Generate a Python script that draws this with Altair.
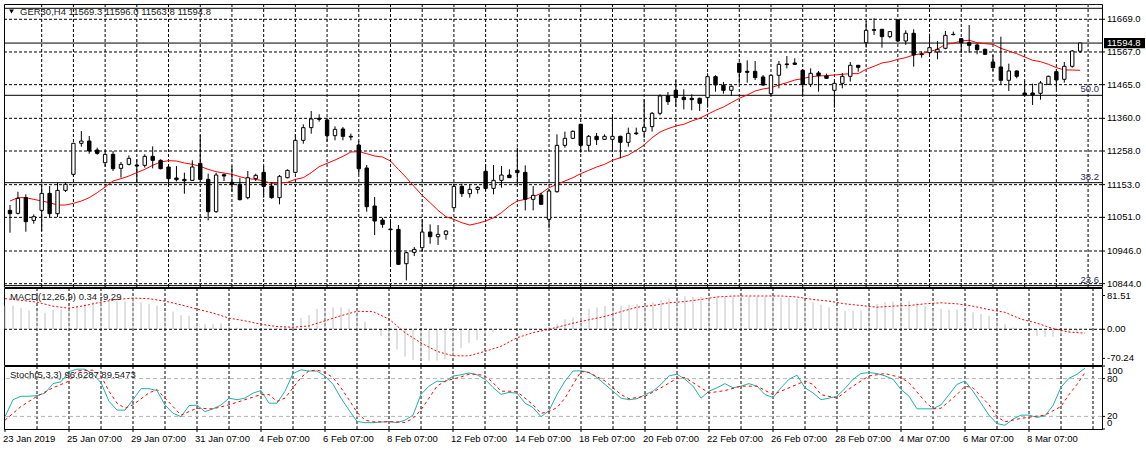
import altair as alt
import pandas as pd

# ---------------- data ----------------
bar_open = [11072.8, 11063.5, 11112.4, 11041.6, 11072.8, 11125.9, 11062.4, 11135.2, 11185.2, 11282.0,
            11289.2, 11261.1, 11221.6, 11247.6, 11203.9, 11216.4, 11214.3, 11213.3, 11241.4, 11228.9,
            11208.1, 11173.8, 11169.6, 11166.5, 11219.5, 11169.6, 11068.7, 11184.2, 11160.2, 11154.0,
            11112.4, 11171.7, 11191.4, 11148.8, 11112.4, 11174.8, 11191.4, 11291.3, 11330.9, 11360.0,
            11354.8, 11305.9, 11326.7, 11303.8, 11276.7, 11205.0, 11086.4, 11042.6, 11014.6, 11013.5,
            10906.4, 10941.7, 10956.3, 11005.2, 10990.6, 10997.9, 11081.2, 11147.7, 11124.9, 11138.4,
            11194.6, 11141.5, 11166.5, 11183.1, 11197.7, 11191.4, 11107.2, 11120.7, 11044.7, 11131.1,
            11275.7, 11297.6, 11341.3, 11275.7, 11303.8, 11294.4, 11294.4, 11303.8, 11285.1, 11314.2,
            11319.4, 11334.0, 11375.6, 11429.7, 11447.4, 11425.5, 11422.4, 11422.4, 11424.5, 11490.0,
            11463.0, 11447.4, 11531.6, 11506.7, 11506.7, 11489.0, 11437.0, 11494.2, 11529.6, 11532.7,
            11509.8, 11466.1, 11501.5, 11492.1, 11447.4, 11469.2, 11491.1, 11525.4, 11596.1, 11636.7,
            11637.8, 11614.9, 11666.9, 11601.4, 11625.3, 11560.8, 11564.9, 11567.0, 11578.5, 11622.2,
            11608.6, 11596.1, 11588.9, 11575.3, 11535.8, 11520.2, 11478.6, 11507.7, 11439.1, 11439.1,
            11438.0, 11466.1, 11505.6, 11481.7, 11522.3, 11569.3]
bar_high = [11089.5, 11131.1, 11122.8, 11060.3, 11156.1, 11148.8, 11159.2, 11159.2, 11284.0, 11320.4,
            11304.8, 11268.4, 11258.0, 11258.0, 11223.7, 11244.5, 11232.0, 11247.6, 11272.6, 11232.0,
            11214.3, 11211.2, 11190.4, 11228.9, 11308.0, 11187.3, 11190.4, 11187.3, 11211.2, 11174.8,
            11195.6, 11187.3, 11211.2, 11159.2, 11183.1, 11200.8, 11310.1, 11341.3, 11382.9, 11372.5,
            11362.1, 11335.0, 11332.9, 11312.1, 11289.2, 11214.3, 11114.4, 11049.9, 11044.7, 11027.1,
            10943.8, 10958.4, 11044.7, 11029.1, 11027.1, 11010.4, 11156.1, 11156.1, 11154.0, 11148.8,
            11216.4, 11214.3, 11211.2, 11200.8, 11268.4, 11213.3, 11148.8, 11128.0, 11138.4, 11310.1,
            11318.4, 11322.5, 11343.3, 11308.0, 11314.2, 11310.1, 11367.3, 11305.9, 11330.9, 11330.9,
            11419.3, 11379.8, 11434.9, 11442.2, 11478.6, 11450.5, 11434.9, 11424.5, 11500.4, 11494.2,
            11473.4, 11463.0, 11533.8, 11541.0, 11538.9, 11495.2, 11495.2, 11538.9, 11554.5, 11547.2,
            11512.9, 11516.0, 11507.7, 11499.4, 11474.4, 11501.5, 11535.8, 11526.4, 11663.8, 11672.1,
            11637.8, 11632.6, 11669.0, 11634.6, 11637.8, 11568.1, 11624.2, 11601.4, 11632.6, 11630.5,
            11609.7, 11651.3, 11593.0, 11577.4, 11557.7, 11614.9, 11530.6, 11509.8, 11476.5, 11468.2,
            11476.5, 11493.2, 11507.7, 11535.8, 11573.3, 11596.0]
bar_low = [11003.1, 11060.3, 11006.2, 11031.2, 11008.3, 11052.0, 11052.0, 11130.1, 11180.0, 11271.5,
           11249.7, 11246.6, 11209.1, 11195.6, 11174.8, 11213.3, 11159.2, 11206.0, 11203.9, 11200.8,
           11154.0, 11163.3, 11124.8, 11164.4, 11167.5, 11041.6, 11065.5, 11164.4, 11131.1, 11104.0,
           11107.2, 11164.4, 11112.4, 11109.2, 11091.6, 11172.7, 11187.3, 11280.9, 11312.1, 11349.6,
           11287.1, 11291.3, 11291.3, 11291.3, 11185.2, 11068.7, 10995.8, 11018.7, 10904.3, 10902.2,
           10854.3, 10930.3, 10945.9, 10968.8, 10964.6, 10981.3, 11075.9, 11114.4, 11112.4, 11124.9,
           11135.2, 11122.8, 11143.6, 11174.8, 11154.0, 11072.8, 11072.8, 11091.6, 11016.7, 11128.0,
           11268.4, 11295.5, 11252.8, 11256.0, 11276.7, 11293.4, 11256.0, 11235.1, 11271.5, 11308.0,
           11299.6, 11318.4, 11369.4, 11401.6, 11395.4, 11388.1, 11385.0, 11382.9, 11393.3, 11443.2,
           11437.0, 11429.7, 11468.2, 11471.3, 11479.6, 11460.9, 11429.7, 11453.6, 11516.0, 11526.4,
           11432.8, 11457.8, 11443.2, 11484.8, 11393.3, 11453.6, 11474.4, 11505.6, 11580.5, 11620.1,
           11580.5, 11609.7, 11599.3, 11588.9, 11521.2, 11549.3, 11559.7, 11544.1, 11575.3, 11619.0,
           11564.9, 11564.9, 11559.7, 11557.7, 11507.7, 11464.0, 11445.3, 11484.8, 11429.7, 11401.6,
           11418.2, 11464.0, 11450.5, 11471.3, 11518.1, 11563.8]
bar_close = [11062.4, 11110.3, 11037.5, 11053.1, 11125.9, 11062.4, 11135.2, 11154.0, 11282.0, 11289.2,
             11258.0, 11250.7, 11247.6, 11202.9, 11216.4, 11235.1, 11211.2, 11241.4, 11228.9, 11202.9,
             11171.7, 11168.5, 11165.4, 11208.1, 11169.6, 11068.7, 11183.1, 11180.0, 11154.0, 11106.1,
             11174.8, 11182.1, 11147.7, 11112.4, 11179.0, 11197.7, 11291.3, 11330.9, 11357.9, 11356.9,
             11305.9, 11325.6, 11303.8, 11301.7, 11202.9, 11084.3, 11039.5, 11029.1, 11012.5, 10904.3,
             10940.7, 10951.1, 11005.2, 10990.6, 10997.9, 11008.3, 11147.7, 11124.9, 11138.4, 11144.6,
             11141.5, 11166.5, 11183.1, 11174.8, 11190.4, 11107.2, 11119.7, 11091.6, 11133.2, 11275.7,
             11297.6, 11319.4, 11275.7, 11303.8, 11293.4, 11303.8, 11303.8, 11285.1, 11313.2, 11312.1,
             11331.9, 11375.6, 11429.7, 11412.0, 11424.5, 11418.2, 11418.2, 11406.8, 11490.0, 11464.0,
             11447.4, 11459.9, 11503.6, 11503.6, 11487.0, 11464.0, 11494.2, 11528.5, 11527.5, 11528.5,
             11466.1, 11500.4, 11493.2, 11484.8, 11469.2, 11491.1, 11525.4, 11519.2, 11634.6, 11634.6,
             11614.9, 11630.5, 11601.4, 11625.3, 11557.7, 11558.7, 11580.5, 11575.3, 11619.0, 11621.1,
             11596.1, 11587.8, 11574.3, 11559.7, 11518.1, 11478.6, 11507.7, 11491.1, 11432.8, 11432.8,
             11470.3, 11491.1, 11479.6, 11522.3, 11570.1, 11594.8]
ma_values = [11102.0, 11112.4, 11112.4, 11107.2, 11102.0, 11096.8, 11089.5, 11089.5, 11094.7, 11102.0,
             11112.4, 11128.0, 11145.7, 11164.4, 11171.7, 11180.0, 11190.4, 11200.8, 11213.3, 11223.7,
             11227.9, 11226.8, 11220.6, 11216.4, 11210.2, 11200.8, 11193.5, 11189.4, 11185.2, 11177.9,
             11171.7, 11169.6, 11164.4, 11157.1, 11158.2, 11160.2, 11169.6, 11174.8, 11190.4, 11209.1,
             11219.5, 11229.9, 11241.4, 11254.9, 11255.9, 11249.7, 11242.4, 11239.3, 11226.8, 11200.8,
             11174.8, 11146.7, 11119.7, 11096.8, 11072.8, 11053.1, 11044.7, 11034.3, 11027.1, 11032.3,
             11039.5, 11049.9, 11065.5, 11086.4, 11102.0, 11107.2, 11115.5, 11125.9, 11143.6, 11154.0,
             11164.4, 11174.8, 11187.3, 11197.7, 11208.1, 11216.4, 11228.9, 11237.2, 11245.5, 11260.1,
             11276.7, 11299.6, 11317.3, 11327.7, 11336.1, 11341.3, 11351.7, 11360.0, 11372.5, 11384.9,
             11395.4, 11408.9, 11422.4, 11432.8, 11445.3, 11451.5, 11455.7, 11464.0, 11471.3, 11479.6,
             11483.8, 11490.0, 11492.1, 11493.2, 11495.2, 11497.3, 11499.4, 11499.4, 11512.9, 11522.3,
             11532.7, 11536.8, 11544.1, 11549.3, 11557.7, 11561.8, 11568.1, 11575.3, 11591.0, 11594.1,
             11601.4, 11603.5, 11596.1, 11593.0, 11591.0, 11578.5, 11570.1, 11561.8, 11551.4, 11541.0,
             11536.8, 11528.5, 11518.1, 11510.8, 11510.8, 11509.8]

macd_hist = [57, 57, 51, 45, 45, 39, 47, 48, 56, 57, 61.5, 65.6, 67, 67, 68, 67, 74, 65.6, 61.5, 57,
             42.6, 42.6, 34.4, 32.8, 14.8, 12.3, 12.3, 14, 6.6, 4.1, 2.5, 1.6, 1.6, 1.6, 4.1, 5.7, 9.8,
             27.9, 34.4, 49, 51, 52.5, 52.5, 49, 47.6, 18, -2, -16.4, -28.7, -49, -65.6, -73.8, -73.8,
             -75.4, -75.4, -72, -61.5, -45, -32.8, -26.2, -12.3, -6.6, -1, 0.5, 1.6, 3.3, 1.6, 0.5, 5.7,
             12.3, 24.6, 28.7, 37, 49, 53, 56, 57, 57, 59, 61.5, 61.5, 65.6, 70, 74, 78, 79.5, 78, 78, 78,
             79.5, 79.5, 79.5, 79.5, 79.5, 79.5, 79.5, 79.5, 76, 75.4, 74, 70, 65.6, 59, 53, 49, 45, 45,
             45, 56, 61.5, 65.6, 67, 67, 68, 64, 56, 49, 49, 47.6, 47.6, 45, 41, 37, 32.8, 24.6, 12.3,
             4.1, 1.6, -1, -16.4, -18, -18, -12.3, -8.2, -6.6, 0.34]
macd_sig_idx = list(range(0, 71, 2)) + [71] + list(range(73, 136, 2))
macd_sig_val = [74, 70, 65.6, 55.8, 50.8, 57.4, 65.6, 72, 75.4, 73.8, 68, 59, 49, 39.4, 27, 20.5, 12.3,
                6.6, 4.9, 8.2, 20.5, 32.8, 43.5, 42.6, 24.6, -8.2, -32.8, -53.3, -64, -64, -53.3, -41,
                -20.5, -8.2, 0, 9.8, 14.8, 23, 31, 42.6, 53.3, 57.4, 64, 67, 72, 78, 80.4, 80.4, 80.4,
                80.4, 78, 72, 68, 61.5, 57.4, 53.3, 56, 57.4, 61.5, 64, 61.5, 55.8, 47.6, 41, 24.6,
                14.8, 1.6, -6.6, -9.29]

stoch_main = [19.5, 46.5, 52, 52, 53, 57, 72, 75, 91, 95, 95, 87, 73.5, 44, 30, 30, 46.5, 64, 64, 61,
              38, 25, 19.5, 37, 38, 27.5, 32, 38, 49, 46.5, 49, 57, 61, 41, 41, 60, 88, 94, 92, 92, 84,
              71, 49, 30, 12, 10, 10, 11, 12, 10, 14, 22, 55, 68, 76, 75, 84, 86, 89, 86, 79, 66, 55,
              58, 57, 41, 34, 19.5, 29, 55, 76, 92, 92.4, 89.7, 81.6, 70.8, 60, 49, 46.5, 48, 54.6, 60,
              70.8, 84.3, 87, 79, 68, 49, 60, 65.4, 72, 65.4, 68, 72, 68, 54.6, 50, 65.4, 79, 85.4,
              65.4, 57.3, 46.5, 49, 52, 64.3, 79, 88, 89.7, 88, 84.3, 79, 62.7, 52, 32, 32, 32, 38.4,
              54.6, 70.8, 76.2, 60, 41, 22, 8.6, 6, 15.7, 22, 22, 18.4, 21, 37.3, 66.5, 80.5, 87, 96.6]
stoch_sig_idx = [0, 2, 4, 6, 8, 9, 11, 12, 13, 14, 15, 16, 18, 19, 20, 21, 22, 23, 24, 26, 28, 30, 32,
                 33, 34, 35, 36, 37, 38, 39, 40, 41, 42, 43, 44, 45, 46, 48, 49, 50, 51, 52, 53, 54,
                 55, 57, 58, 59, 60, 61, 62, 63, 64, 65, 66, 67, 68, 69, 70, 71, 72, 73, 75, 77, 78,
                 80, 82, 84, 85, 86, 88, 90, 92, 94, 96, 98, 100, 101, 102, 104, 106, 108, 110, 112,
                 113, 115, 116, 117, 119, 120, 121, 123, 124, 125, 127, 129, 130, 132, 133, 134, 135]
stoch_sig_val = [14, 35.7, 52, 65.4, 76, 92.4, 93.5, 84.3, 60, 41, 33, 38.4, 57.3, 62.7, 49, 35.7, 22,
                 27.6, 33, 32, 38.4, 46.5, 54.6, 54.6, 43.8, 49, 65.4, 81.6, 92.4, 93.5, 89.7, 81.6,
                 65.4, 46.5, 26.5, 14, 11.4, 11.4, 11.4, 10.3, 16.8, 30.3, 49, 68, 76, 82.7, 87, 87,
                 84.3, 73.5, 60, 60, 59, 49, 38.4, 24.9, 27.6, 34, 49, 70.8, 91.4, 89.7, 76.2, 54.6,
                 48, 52, 65.4, 80.5, 81.6, 73.5, 57.3, 61, 68, 68, 54.6, 65.4, 76.2, 70.8, 54.6, 49,
                 68, 84.3, 88, 81.6, 73.5, 43.8, 32, 33, 54.6, 68, 65.4, 38.4, 19.5, 11.4, 16.8, 20.5,
                 22, 35.7, 54.6, 70.8, 89.5]

fib_levels = [11703.3, 11431.8, 11159.2, 10838.0]
fib_names = ["61.8", "50.0", "38.2", "23.6"]
last_price = 11594.8
price_ticks = [11669, 11567, 11465, 11360, 11258, 11153, 11051, 10946, 10844]
price_tick_labels = ["11669.0", "11567.0", "11465.0", "11360.0", "11258.0", "11153.0",
                     "11051.0", "10946.0", "10844.0"]
macd_ticks = [81.51, 0, -70.24]
macd_tick_labels = ["81.51", "0.00", "-70.24"]
stoch_levels = [20, 80]
date_pos = list(range(0, 129, 8))
date_labels = ["23 Jan 2019", "25 Jan 07:00", "29 Jan 07:00", "31 Jan 07:00", "4 Feb 07:00",
               "6 Feb 07:00", "8 Feb 07:00", "12 Feb 07:00", "14 Feb 07:00", "18 Feb 07:00",
               "20 Feb 07:00", "22 Feb 07:00", "26 Feb 07:00", "28 Feb 07:00", "4 Mar 07:00",
               "6 Mar 07:00", "8 Mar 07:00"]
price_title = "GER30,H4  11569.3 11596.0 11563.8 11594.8"
macd_title = "MACD(12,26,9) 0.34 -9.29"
stoch_title = "Stoch(5,3,3) 96.6287 89.5473"

# ---------------- frames ----------------
n = len(bar_close)
candles = pd.DataFrame({"i": range(n), "open": bar_open, "high": bar_high,
                        "low": bar_low, "close": bar_close, "ma": ma_values,
                        "hist": macd_hist, "st": stoch_main})
macd_sig = pd.DataFrame({"i": macd_sig_idx, "v": macd_sig_val})
stoch_sig = pd.DataFrame({"i": stoch_sig_idx, "v": stoch_sig_val})
fib = pd.DataFrame({"level": fib_levels, "name": fib_names})
vgrid = pd.DataFrame({"g": list(range(4, 137, 4))})
one = pd.DataFrame({"k": [0]})

W = 1098
H_PRICE, H_MACD, H_STOCH = 283, 77, 63
FONT = "Liberation Sans"
FS = 9.5
BLACK = "#000000"
RED = "#ff0000"
TXT = "#202020"
xs = alt.Scale(domain=[-0.125, 137.125], nice=False, zero=False)
X = alt.X("i:Q", scale=xs, axis=None)


def grid_layer():
    return alt.Chart(vgrid).mark_rule(color=BLACK, strokeWidth=1, strokeDash=[3, 2]).encode(
        x=alt.X("g:Q", scale=xs, axis=None))


def right_labels(values, labels, scale, dy=0):
    df = pd.DataFrame({"v": values, "t": labels})
    ticks = alt.Chart(df).mark_rule(color=BLACK, strokeWidth=1).encode(
        x=alt.value(W), x2=alt.value(W + 3), y=alt.Y("v:Q", scale=scale, axis=None))
    text = alt.Chart(df).mark_text(align="left", baseline="middle", font=FONT, fontSize=FS,
                                   color=BLACK, dy=dy).encode(
        x=alt.value(W + 5), y=alt.Y("v:Q", scale=scale, axis=None), text="t:N")
    return ticks + text


def panel_title(text):
    return alt.Chart(one).mark_text(align="left", baseline="middle", font=FONT, fontSize=FS,
                                    color=TXT).encode(
        x=alt.value(6), y=alt.value(9), text=alt.value(text))


# ---------------- price panel ----------------
ps = alt.Scale(domain=[10833.7, 11716.7], nice=False, zero=False)
base = alt.Chart(candles)
hgrid = alt.Chart(pd.DataFrame({"v": price_ticks})).mark_rule(
    color=BLACK, strokeWidth=1, strokeDash=[3, 2]).encode(y=alt.Y("v:Q", scale=ps, axis=None))
wicks = base.mark_rule(color=BLACK, strokeWidth=1).encode(
    x=X, y=alt.Y("low:Q", scale=ps, axis=None), y2="high:Q")
bodies = base.mark_bar(size=3.4, stroke=BLACK, strokeWidth=1).encode(
    x=X, y=alt.Y("open:Q", scale=ps, axis=None), y2="close:Q",
    fill=alt.condition("datum.close >= datum.open", alt.value("white"), alt.value(BLACK)))
ma = base.mark_line(color=RED, strokeWidth=1).encode(x=X, y=alt.Y("ma:Q", scale=ps, axis=None))
fib_rules = alt.Chart(fib).mark_rule(color=BLACK, strokeWidth=1).encode(
    y=alt.Y("level:Q", scale=ps, axis=None))
fib_text = alt.Chart(fib).mark_text(align="right", baseline="bottom", dy=-1, font=FONT,
                                    fontSize=FS, color="#2a2a55", clip=True).encode(
    x=alt.value(1095), y=alt.Y("level:Q", scale=ps, axis=None), text="name:N")
last_df = pd.DataFrame({"p": [last_price], "top": [last_price + 16], "bot": [last_price - 16],
                        "t": [f"{last_price:.1f}"]})
last_rule = alt.Chart(last_df).mark_rule(color=BLACK, strokeWidth=1).encode(
    y=alt.Y("p:Q", scale=ps, axis=None))
last_box = alt.Chart(last_df).mark_rect(color=BLACK).encode(
    x=alt.value(W + 2), x2=alt.value(W + 43), y=alt.Y("top:Q", scale=ps, axis=None), y2="bot:Q")
last_txt = alt.Chart(last_df).mark_text(align="left", baseline="middle", color="white",
                                        font=FONT, fontSize=FS).encode(
    x=alt.value(W + 5), y=alt.Y("p:Q", scale=ps, axis=None), text="t:N")
title_tri = alt.Chart(one).mark_point(shape="triangle-down", filled=True, color=BLACK,
                                      size=22, opacity=1).encode(x=alt.value(7.5), y=alt.value(7.5))
title_txt = alt.Chart(one).mark_text(align="left", baseline="middle", font=FONT, fontSize=FS,
                                     color=TXT).encode(
    x=alt.value(16), y=alt.value(8), text=alt.value(price_title))
price = alt.layer(hgrid, grid_layer(), fib_rules, last_rule, ma, wicks, bodies, fib_text,
                  right_labels(price_ticks, price_tick_labels, ps),
                  last_box, last_txt, title_tri, title_txt).properties(width=W, height=H_PRICE)

# ---------------- MACD panel ----------------
ms = alt.Scale(domain=[-86.2, 99.7], nice=False, zero=False)
hist = base.mark_rule(color="#c0c0c0", strokeWidth=1).encode(
    x=X, y=alt.Y("hist:Q", scale=ms, axis=None), y2=alt.datum(0))
zero = alt.Chart(pd.DataFrame({"v": [0]})).mark_rule(
    color=BLACK, strokeWidth=1, strokeDash=[3, 2]).encode(y=alt.Y("v:Q", scale=ms, axis=None))
msig = alt.Chart(macd_sig).mark_line(color=RED, strokeWidth=1, strokeDash=[2, 2]).encode(
    x=X, y=alt.Y("v:Q", scale=ms, axis=None))
macd = alt.layer(grid_layer(), hist, zero, msig, panel_title(macd_title),
                 right_labels(macd_ticks, macd_tick_labels, ms)).properties(width=W, height=H_MACD)

# ---------------- Stochastic panel ----------------
ss = alt.Scale(domain=[0, 100], nice=False, zero=False)
levels = alt.Chart(pd.DataFrame({"lv": stoch_levels})).mark_rule(
    color="#b4b4b4", strokeWidth=1, strokeDash=[4, 3]).encode(y=alt.Y("lv:Q", scale=ss, axis=None))
smain = base.mark_line(color="#20b2aa", strokeWidth=1).encode(
    x=X, y=alt.Y("st:Q", scale=ss, axis=None))
ssig = alt.Chart(stoch_sig).mark_line(color=RED, strokeWidth=1, strokeDash=[3, 3]).encode(
    x=X, y=alt.Y("v:Q", scale=ss, axis=None))
date_df = pd.DataFrame({"i": date_pos, "t": date_labels})
xticks = alt.Chart(date_df).mark_rule(color=BLACK, strokeWidth=1).encode(
    x=X, y=alt.value(H_STOCH), y2=alt.value(H_STOCH + 3))
xlabels = alt.Chart(date_df).mark_text(align="left", baseline="top", dx=-2, font=FONT,
                                       fontSize=FS, color=BLACK).encode(
    x=X, y=alt.value(H_STOCH + 5), text="t:N")
stoch = alt.layer(grid_layer(), levels, smain, ssig, panel_title(stoch_title),
                  right_labels([20, 80], ["20", "80"], ss),
                  right_labels([100], ["100"], ss, dy=5),
                  right_labels([0], ["0"], ss, dy=-6),
                  xticks, xlabels).properties(width=W, height=H_STOCH)

chart = alt.vconcat(price, macd, stoch, spacing=1, bounds="flush").properties(
    padding={"left": 2, "top": 3, "right": 0, "bottom": 0},
    background="white",
).configure_view(stroke=BLACK, strokeWidth=1)

chart.save("out.html", embed_options={"renderer": "svg", "actions": False})
